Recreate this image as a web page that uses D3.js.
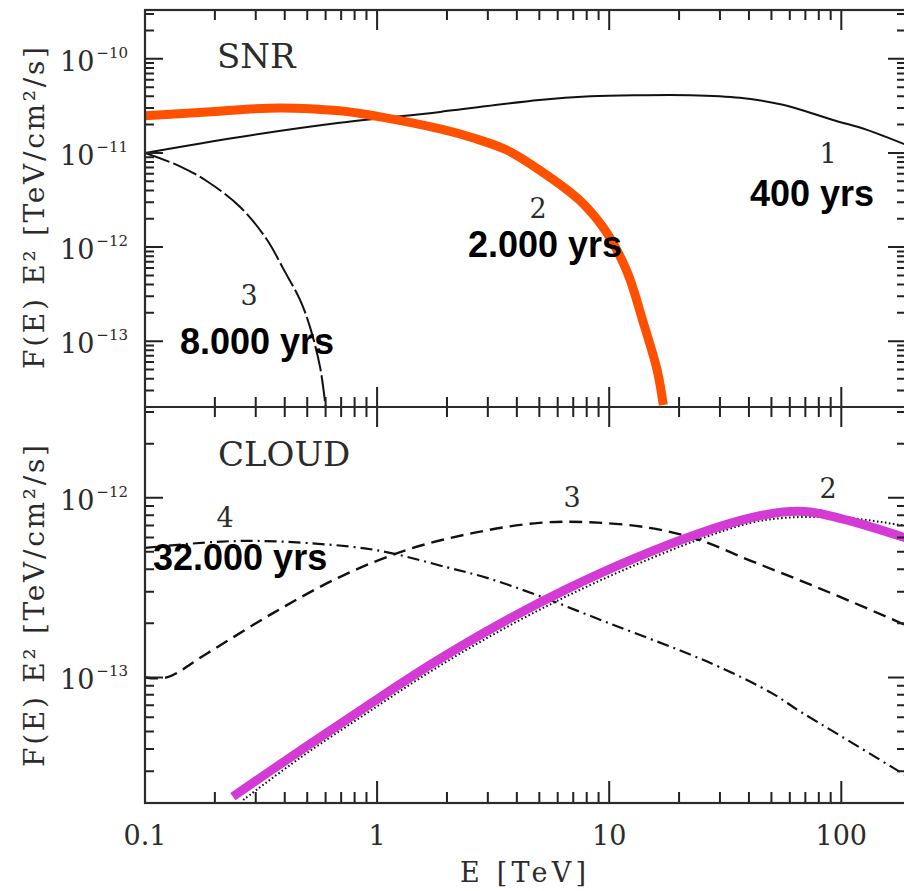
<!DOCTYPE html>
<html>
<head>
<meta charset="utf-8">
<script src="https://cdn.jsdelivr.net/npm/d3@7"></script>
<style>
  html, body { margin: 0; padding: 0; background: #fff; }
  svg { display: block; }
</style>
</head>
<body>
<svg id="chart" width="904" height="891"></svg>
<script>
// ---- data: E [TeV] and E^2 F(E) [TeV/cm^2/s] for each model curve ----

// SNR panel
const snr1E = [0.1, 0.257, 0.69, 1.87, 5.0, 8.3, 13.5, 22.3, 36.6, 56, 92, 129, 190];
const snr1F = [1.0e-11, 1.48e-11, 2.09e-11, 2.73e-11, 3.66e-11, 4.0e-11, 4.1e-11, 4.1e-11,
               3.85e-11, 3.25e-11, 2.24e-11, 1.76e-11, 1.22e-11];

const snr2E = [0.1, 0.185, 0.382, 0.69, 1.03, 1.87, 2.58, 3.6, 5.0, 7.5, 9.8, 12, 14, 16.1, 17.1];
const snr2F = [2.48e-11, 2.73e-11, 3.01e-11, 2.8e-11, 2.42e-11, 1.8e-11, 1.45e-11, 1.08e-11,
               6.6e-12, 3.1e-12, 1.4e-12, 5.3e-13, 1.6e-13, 4.9e-14, 2.1e-14];

const snr3E = [0.1, 0.14, 0.185, 0.257, 0.336, 0.394, 0.466, 0.514, 0.568, 0.6];
const snr3F = [1.0e-11, 7.3e-12, 5.0e-12, 2.67e-12, 1.19e-12, 5.9e-13, 2.73e-13, 1.41e-13, 5.3e-14, 2.0e-14];

// CLOUD panel
const cloud2E = [0.239, 0.466, 0.905, 1.74, 3.39, 6.59, 12.7, 24.7, 40.5, 56.3, 73.5, 109, 190];
const cloud2F = [2.17e-14, 3.91e-14, 6.94e-14, 1.2e-13, 1.99e-13, 3.11e-13, 4.57e-13, 6.37e-13,
                 7.72e-13, 8.34e-13, 8.34e-13, 7.43e-13, 5.97e-13];

const cloud2dotE = [0.265, 0.466, 0.905, 1.74, 3.39, 6.59, 12.7, 24.7, 40.5, 56.3, 81, 109, 190];
const cloud2dotF = [2.08e-14, 3.57e-14, 6.34e-14, 1.1e-13, 1.82e-13, 2.84e-13, 4.18e-13, 5.9e-13,
                    7.24e-13, 7.72e-13, 7.82e-13, 7.72e-13, 6.97e-13];

const cloud3E = [0.1, 0.124, 0.185, 0.356, 0.69, 1.34, 2.6, 5.0, 8.3, 14.9, 24.5, 40, 66, 109, 190];
const cloud3F = [1.0e-13, 1.0e-13, 1.36e-13, 2.28e-13, 3.62e-13, 5.12e-13, 6.37e-13, 7.25e-13,
                 7.3e-13, 6.8e-13, 5.82e-13, 4.5e-13, 3.48e-13, 2.66e-13, 1.95e-13];

const cloud4E = [0.1, 0.2, 0.3, 0.5, 1, 2, 3, 5, 10, 20, 30, 50, 66, 100, 190];
const cloud4F = [5.26e-13, 5.68e-13, 5.75e-13, 5.6e-13, 5.1e-13, 4.1e-13, 3.57e-13, 2.84e-13,
                 2.0e-13, 1.42e-13, 1.14e-13, 8.2e-14, 6.5e-14, 4.7e-14, 2.84e-14];

// axis ticks and labels
const xTickValues = [0.1, 1, 10, 100];
const xTickLabels = ["0.1", "1", "10", "100"];
const topExponents = [-10, -11, -12, -13];
const botExponents = [-12, -13];

// ---- layout ----
const L = 145, R = 906, T = 10, M = 407, B = 803;
const ink = "#2b2b2b";
const serif = "'DejaVu Serif', serif";
const sans = "'Liberation Sans', Arial, sans-serif";

const svg = d3.select("#chart");

const x = d3.scaleLog().domain([0.1, 190]).range([L, R]);
const yTop = d3.scaleLog().domain([2e-14, 3.3e-10]).range([M, T]);
const yBot = d3.scaleLog().domain([2e-14, 3.2e-12]).range([B, M]);

// clip regions for the two panels
const defs = svg.append("defs");
defs.append("clipPath").attr("id", "clipTop")
  .append("rect").attr("x", L).attr("y", T).attr("width", R - L).attr("height", M - T);
defs.append("clipPath").attr("id", "clipBot")
  .append("rect").attr("x", L).attr("y", M).attr("width", R - L).attr("height", B - M);

// log tick values within a domain
function majorLog(lo, hi) {
  const out = [];
  for (let d = Math.ceil(Math.log10(lo) - 1e-9); d <= Math.floor(Math.log10(hi) + 1e-9); d++) {
    out.push(Math.pow(10, d));
  }
  return out;
}
function minorLog(lo, hi) {
  const out = [];
  for (let d = Math.floor(Math.log10(lo)); d <= Math.ceil(Math.log10(hi)); d++) {
    for (let k = 2; k <= 9; k++) {
      const v = k * Math.pow(10, d);
      if (v > lo * 1.0001 && v < hi * 0.9999) out.push(v);
    }
  }
  return out;
}

// ---- curves ----
function curve(clipId, y, E, F, attrs) {
  const line = d3.line().x(d => x(d[0])).y(d => y(d[1])).curve(d3.curveCatmullRom.alpha(0.5));
  const p = svg.append("path")
    .datum(d3.zip(E, F))
    .attr("clip-path", `url(#${clipId})`)
    .attr("d", line)
    .attr("fill", "none")
    .attr("stroke-linejoin", "round");
  Object.entries(attrs).forEach(([k, v]) => p.attr(k, v));
  return p;
}

// SNR
curve("clipTop", yTop, snr3E, snr3F, { stroke: "#111", "stroke-width": 2, "stroke-dasharray": "26,4" });
curve("clipTop", yTop, snr1E, snr1F, { stroke: "#111", "stroke-width": 2 });
curve("clipTop", yTop, snr2E, snr2F, { stroke: "#ff5000", "stroke-width": 9 });

// CLOUD
curve("clipBot", yBot, cloud4E, cloud4F, { stroke: "#111", "stroke-width": 2.2, "stroke-dasharray": "12,5,2,5" });
curve("clipBot", yBot, cloud3E, cloud3F, { stroke: "#111", "stroke-width": 2.4, "stroke-dasharray": "13,7" });
curve("clipBot", yBot, cloud2dotE, cloud2dotF, { stroke: "#111", "stroke-width": 2, "stroke-dasharray": "1.6,2.4" });
curve("clipBot", yBot, cloud2E, cloud2F, { stroke: "#d43ad4", "stroke-width": 9 });

// ---- tick marks: one path per edge/tick size ----
function tickPath(segs) {
  svg.append("path")
    .attr("d", segs.join(""))
    .attr("fill", "none")
    .attr("stroke", "#222")
    .attr("stroke-width", 2);
}
function vTicks(y, values, x0, len) {
  tickPath(values.map(v => y(v)).filter(Number.isFinite).map(yy => `M${x0},${yy}H${x0 + len}`));
}
function hTicks(values, y0, len) {
  tickPath(values.map(v => x(v)).filter(Number.isFinite).map(xx => `M${xx},${y0}V${y0 + len}`));
}

[yTop, yBot].forEach(y => {
  const [lo, hi] = y.domain();
  const maj = majorLog(lo, hi), min = minorLog(lo, hi);
  vTicks(y, maj, L, 18); vTicks(y, min, L, 9);
  vTicks(y, maj, R, -18); vTicks(y, min, R, -9);
});

const xMaj = majorLog(0.1, 190), xMin = minorLog(0.1, 190);
hTicks(xMaj, T, 20); hTicks(xMin, T, 10);          // top edge
hTicks(xMaj, M, -20); hTicks(xMin, M, -10);        // divider, upward
hTicks(xMaj, M, 20); hTicks(xMin, M, 10);          // divider, downward
hTicks(xMaj, B, -22); hTicks(xMin, B, -11);        // bottom edge

// frame and panel divider
svg.append("rect").attr("x", L).attr("y", T).attr("width", R - L).attr("height", B - T)
  .attr("fill", "none").attr("stroke", ink).attr("stroke-width", 2.2);
svg.append("line").attr("x1", L).attr("x2", R).attr("y1", M).attr("y2", M)
  .attr("stroke", ink).attr("stroke-width", 2.2);

// ---- axis labels ----
function yTickLabels(y, exps) {
  exps.forEach(e => {
    const t = svg.append("text")
      .attr("x", 128).attr("y", y(Math.pow(10, e)) + 12)
      .attr("text-anchor", "end")
      .attr("font-family", serif).attr("font-size", 27).attr("fill", ink);
    t.append("tspan").text("10");
    t.append("tspan").attr("dy", -13).attr("dx", 2).attr("font-size", 15).text("\u2212" + Math.abs(e));
  });
}
yTickLabels(yTop, topExponents);
yTickLabels(yBot, botExponents);

xTickValues.forEach((v, i) => {
  svg.append("text")
    .attr("x", x(v)).attr("y", 845)
    .attr("text-anchor", "middle")
    .attr("font-family", serif).attr("font-size", 27).attr("fill", ink)
    .text(xTickLabels[i]);
});

svg.append("text")
  .attr("x", 523).attr("y", 882)
  .attr("text-anchor", "middle")
  .attr("font-family", serif).attr("font-size", 27).attr("fill", ink)
  .attr("textLength", 126).attr("lengthAdjust", "spacing")
  .text("E [TeV]");

function yTitle(cy) {
  svg.append("text")
    .attr("transform", `translate(44,${cy}) rotate(-90)`)
    .attr("text-anchor", "middle")
    .attr("font-family", serif).attr("font-size", 28).attr("fill", ink)
    .attr("textLength", 322).attr("lengthAdjust", "spacing")
    .text("F(E)  E\u00B2 [TeV/cm\u00B2/s]");
}
yTitle(208);
yTitle(606);

// panel titles
svg.append("text").attr("x", 217).attr("y", 68)
  .attr("font-family", serif).attr("font-size", 34).attr("fill", ink).text("SNR");
svg.append("text").attr("x", 218).attr("y", 466)
  .attr("font-family", serif).attr("font-size", 34).attr("fill", ink).text("CLOUD");

// curve numbers
const numberMarks = [
  { t: "1", x: 828, y: 163 },
  { t: "2", x: 538, y: 218 },
  { t: "3", x: 249, y: 305 },
  { t: "4", x: 225, y: 527 },
  { t: "3", x: 572, y: 507 },
  { t: "2", x: 828, y: 498 }
];
numberMarks.forEach(d => {
  svg.append("text").attr("x", d.x).attr("y", d.y).attr("text-anchor", "middle")
    .attr("font-family", serif).attr("font-size", 27).attr("fill", ink).text(d.t);
});

// age annotations
const ages = [
  { t: "400 yrs", x: 750, y: 206 },
  { t: "2.000 yrs", x: 468, y: 257 },
  { t: "8.000 yrs", x: 180, y: 354 },
  { t: "32.000 yrs", x: 153, y: 570 }
];
ages.forEach(d => {
  svg.append("text").attr("x", d.x).attr("y", d.y)
    .attr("font-family", sans).attr("font-weight", "bold").attr("font-size", 36)
    .attr("fill", "#000").text(d.t);
});
</script>
</body>
</html>
